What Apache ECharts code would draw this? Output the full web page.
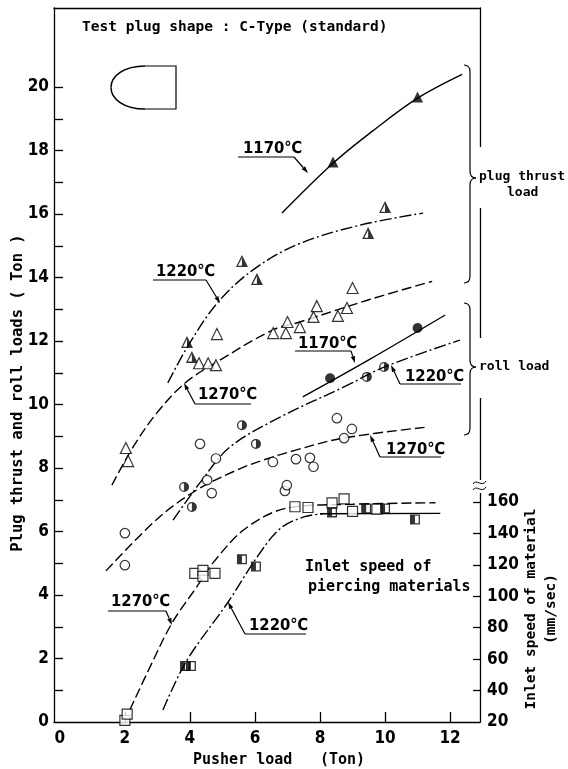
<!DOCTYPE html>
<html>
<head>
<meta charset="utf-8">
<script src="https://cdn.jsdelivr.net/npm/echarts@6/dist/echarts.min.js"></script>
<style>
  html, body { margin: 0; padding: 0; background: #fff; }
  #chart { width: 568px; height: 769px; }
</style>
</head>
<body>
<div id="chart"></div>
<script>
// axis ranges / ticks
var X_MIN = -0.18, X_MAX = 12.92;
var Y_MAX = 22.49;
var S_MIN = 20, S_MAX = 474.4;          // inlet speed axis (mm/sec)
var xTicks = [2, 4, 6, 8, 10, 12];
var xLabels = [0, 2, 4, 6, 8, 10, 12];
var yTicks = [1,2,3,4,5,6,7,8,9,10,11,12,13,14,15,16,17,18,19,20];
var yLabels = [0, 2, 4, 6, 8, 10, 12, 14, 16, 18, 20];
var sTicks = [40, 60, 80, 100, 120, 140, 160];
var sLabels = [20, 40, 60, 80, 100, 120, 140, 160];

// plug thrust load (Ton)
var plug1170Pts = [[8.4, 17.64], [11.0, 19.69]];
var plug1170Curve = [[6.83, 16.03], [8.4, 17.6], [9.7, 18.68], [11.0, 19.65], [12.37, 20.4]];
var plug1220Pts = [[3.91, 11.97], [4.06, 11.5], [5.6, 14.52], [6.06, 13.95], [9.48, 15.4], [10.0, 16.22]];
var plug1220Curve = [[3.32, 10.68], [4.0, 11.95], [4.92, 13.29], [6.06, 14.33], [7.4, 15.08], [9.23, 15.65], [11.17, 16.03]];
var plug1270Pts = [[2.03, 8.63], [2.1, 8.22], [4.28, 11.3], [4.56, 11.3], [4.8, 11.24], [4.83, 12.22],
  [6.56, 12.25], [6.95, 12.25], [7.0, 12.6], [7.38, 12.44], [7.8, 12.76], [7.9, 13.1],
  [8.55, 12.79], [8.83, 13.04], [9.0, 13.67]];
var plug1270Curve = [[1.6, 7.46], [2.25, 8.66], [2.98, 9.73], [3.85, 10.68], [4.83, 11.34], [6.55, 12.35], [7.38, 12.6], [9.5, 13.3], [11.45, 13.88]];

// roll load (Ton)
var roll1170Pts = [[8.31, 10.83], [11.0, 12.41]];
var roll1170Curve = [[7.47, 10.24], [9.54, 11.43], [11.85, 12.82]];
var roll1220Pts = [[3.82, 7.4], [4.06, 6.77], [5.6, 9.35], [6.03, 8.76], [9.44, 10.87], [9.97, 11.18]];
var roll1220Curve = [[3.48, 6.36], [4.37, 7.62], [5.23, 8.66], [6.77, 9.6], [8.83, 10.6], [9.97, 11.18], [12.3, 12.03]];
var roll1270Pts = [[2.0, 5.95], [2.0, 4.94], [4.31, 8.76], [4.53, 7.62], [4.67, 7.21], [4.8, 8.3],
  [6.55, 8.19], [6.92, 7.28], [6.98, 7.46], [7.26, 8.28], [7.69, 8.32], [7.8, 8.04],
  [8.52, 9.57], [8.74, 8.94], [8.98, 9.23]];
var roll1270Curve = [[1.42, 4.76], [3.02, 6.42], [4.2, 7.3], [5.45, 7.94], [6.25, 8.25], [7.2, 8.55], [8.7, 8.94], [11.3, 9.29]];

// inlet speed of piercing materials (mm/sec)
var speed1270Pts = [[2.0, 21], [2.07, 25], [4.15, 114.6], [4.4, 116.5], [4.4, 112.7], [4.77, 114.6],
  [7.23, 157], [7.63, 156.5], [8.37, 159.5], [8.74, 162], [9.0, 154], [9.75, 155.5]];
var speed1270Curve = [[2.15, 27.6], [2.77, 54.9], [3.45, 83], [4.2, 105.7], [4.72, 121.6], [5.75, 143.8], [7.08, 156.5], [9.0, 158.6], [11.55, 159.5]];
var speed1220Pts = [[3.85, 55.6], [4.03, 55.6], [5.6, 123.5], [6.03, 119], [8.37, 153.4], [9.42, 155.9], [10.0, 155.9], [10.92, 148.9]];
var speed1220Curve = [[3.17, 27.6], [3.9, 59], [5.17, 96.2], [6.06, 124.8], [6.77, 143], [7.5, 150.5], [8.1, 152.5]];
var speed1220Flat = [[8.0, 152.5], [11.7, 152.8]];

var NUM_FONT = "'Liberation Sans Narrow', 'DejaVu Sans Condensed', 'Liberation Sans', sans-serif";
var MONO = "'DejaVu Sans Mono', 'Liberation Mono', monospace";

// half filled marks
var HALF_TRI = 'path://M5,0L10,9L0,9Z M5,2.3L1.7,8L5,8Z';
var HALF_CIRCLE = 'path://M5,0A5,5,0,1,1,5,10A5,5,0,1,1,5,0Z M5,1.3A3.7,3.7,0,0,0,5,8.7Z';
var HALF_SQUARE = 'path://M0,0H10V10H0Z M5,1.3V8.7H8.7V1.3Z';

var DASH = [10, 4];
var DASH_DOT = [12, 3, 2, 3];

function curve(name, data, dash, yIdx) {
  return {
    name: name, type: 'line', data: data, yAxisIndex: yIdx || 0,
    smooth: 0.35, symbol: 'none', silent: true,
    lineStyle: { color: '#000', width: 1.4, type: dash }
  };
}
function marks(name, data, symbol, size, filled, yIdx) {
  return {
    name: name, type: 'scatter', data: data, yAxisIndex: yIdx || 0,
    symbol: symbol, symbolSize: size, z: 5,
    itemStyle: filled ? { color: '#000', borderWidth: 0 }
                      : { color: '#fff', borderColor: '#000', borderWidth: 1.2 }
  };
}

// annotation helpers (pixel layout)
var INK = { fill: 'none', stroke: '#000', lineWidth: 1.2 };
function txt(x, y, s, font, rot, align) {
  return { type: 'text', x: x, y: y, z: 100, rotation: rot || 0,
    style: { text: s, font: font, fill: '#000', textAlign: align || 'left', textVerticalAlign: 'middle' } };
}
function seg(x1, y1, x2, y2) {
  return { type: 'line', z: 100, shape: { x1: x1, y1: y1, x2: x2, y2: y2 },
    style: { stroke: '#000', lineWidth: 1.2 } };
}
function quad(x1, y1, cx, cy, x2, y2, w) {
  return { type: 'bezierCurve', z: 100,
    shape: { x1: x1, y1: y1, cpx1: cx, cpy1: cy, x2: x2, y2: y2 },
    style: { fill: 'none', stroke: '#000', lineWidth: w || 1.2 } };
}
function cubic(x1, y1, c1x, c1y, c2x, c2y, x2, y2, w) {
  return { type: 'bezierCurve', z: 100,
    shape: { x1: x1, y1: y1, cpx1: c1x, cpy1: c1y, cpx2: c2x, cpy2: c2y, x2: x2, y2: y2 },
    style: { fill: 'none', stroke: '#000', lineWidth: w || 1.2 } };
}
function arrow(x1, y1, x2, y2) {
  var dx = x2 - x1, dy = y2 - y1, len = Math.sqrt(dx * dx + dy * dy);
  dx /= len; dy /= len;
  var bx = x2 - dx * 7, by = y2 - dy * 7;
  return [seg(x1, y1, bx, by), { type: 'polygon', z: 100,
    shape: { points: [[x2, y2], [bx - dy * 2.2, by + dx * 2.2], [bx + dy * 2.2, by - dx * 2.2]] },
    style: { fill: '#000' } }];
}
function brace(top, tip, bottom) {
  var x0 = 464, x1 = 470, x2 = 476;
  return [
    quad(x0, top, x1, top, x1, top + 7),
    seg(x1, top + 7, x1, tip - 7),
    quad(x1, tip - 7, x1, tip, x2, tip),
    quad(x2, tip, x1, tip, x1, tip + 7),
    seg(x1, tip + 7, x1, bottom - 7),
    quad(x1, bottom - 7, x1, bottom, x0, bottom)
  ];
}
var LBL_FONT = "bold 16.5px " + NUM_FONT;
function tempLabel(tx, ty, s, ux1, ux2, uy, lx, ly, ax, ay) {
  return [txt(tx, ty, s, LBL_FONT), seg(ux1, uy, ux2, uy)].concat(arrow(lx, ly, ax, ay));
}

var graphics = [];
graphics = graphics.concat(
  tempLabel(243, 149, '1170℃', 238, 294, 157, 294, 157, 308, 173),
  tempLabel(156, 272, '1220℃', 153, 206, 280, 206, 280, 220, 303),
  tempLabel(198, 395, '1270℃', 195, 251, 404, 195, 404, 184, 383),
  tempLabel(298, 344, '1170℃', 295, 351, 351, 351, 351, 355, 363),
  tempLabel(405, 377, '1220℃', 400, 461, 384, 400, 384, 391, 365),
  tempLabel(386, 450, '1270℃', 380, 441, 457, 380, 457, 370, 435),
  tempLabel(111, 602, '1270℃', 108, 166, 611, 166, 611, 172, 625),
  tempLabel(249, 626, '1220℃', 245, 306, 634, 245, 634, 228, 602),
  brace(65, 178, 283),
  brace(303, 367, 435)
);
// gaps in right frame + break mark
graphics.push(
  { type: 'rect', z: 99, shape: { x: 476, y: 147, width: 8, height: 61 }, style: { fill: '#fff' } },
  { type: 'rect', z: 99, shape: { x: 476, y: 338, width: 8, height: 60 }, style: { fill: '#fff' } },
  { type: 'rect', z: 99, shape: { x: 476, y: 480, width: 8, height: 13 }, style: { fill: '#fff' } },
  cubic(473, 484, 476, 478, 482, 488, 486, 481, 1),
  cubic(473, 490, 476, 484, 482, 494, 486, 487, 1)
);
// plug shape sketch
graphics.push(
  { type: 'polyline', z: 100, shape: { points: [[145, 66], [176, 66], [176, 109], [145, 109]] }, style: INK },
  cubic(145, 109, 124, 109, 111, 99, 111, 87.5, 1.5),
  cubic(111, 87.5, 111, 76, 124, 66, 145, 66, 1.5)
);
// texts
var BOLD_MONO = "bold 14.5px " + MONO;
var SIDE_MONO = "bold 13px " + MONO;
graphics.push(
  txt(82, 27, 'Test plug shape : C-Type (standard)', BOLD_MONO),
  { type: 'rect', z: 99, shape: { x: 477, y: 168, width: 90, height: 34 }, style: { fill: '#fff' } },
  txt(479, 177, 'plug thrust', SIDE_MONO),
  txt(507, 193, 'load', SIDE_MONO),
  txt(479, 367, 'roll load', SIDE_MONO),
  txt(305, 567, 'Inlet speed of', "bold 15px " + MONO),
  txt(308, 587, 'piercing materials', "bold 15px " + MONO),
  txt(193, 760, 'Pusher load', "bold 15px " + MONO),
  txt(320, 760, '(Ton)', "bold 15px " + MONO),
  txt(18, 393, 'Plug thrust and roll loads ( Ton )', "bold 15.5px " + MONO, Math.PI / 2, 'center'),
  txt(531, 609, 'Inlet speed of material', "bold 14.5px " + MONO, Math.PI / 2, 'center'),
  txt(551, 609, '(mm/sec)', "bold 14.5px " + MONO, Math.PI / 2, 'center')
);

var axisLineStyle = { color: '#000', width: 1.3 };
var numLabel = { color: '#000', fontFamily: NUM_FONT, fontWeight: 'bold', fontSize: 17 };

var chartObj = echarts.init(document.getElementById('chart'));
var option = {
  animation: false,
  backgroundColor: '#fff',
  grid: { left: 54, right: 88, top: 8, bottom: 47 },
  xAxis: [
    {
      type: 'value', min: X_MIN, max: X_MAX,
      axisLine: { onZero: false, lineStyle: axisLineStyle },
      axisTick: { inside: true, length: 10, customValues: xTicks, lineStyle: axisLineStyle },
      axisLabel: Object.assign({ customValues: xLabels, margin: 8 }, numLabel),
      splitLine: { show: false }
    },
    {
      type: 'value', position: 'top', min: X_MIN, max: X_MAX,
      axisLine: { onZero: false, lineStyle: axisLineStyle },
      axisTick: { show: false }, axisLabel: { show: false }, splitLine: { show: false }
    }
  ],
  yAxis: [
    {
      type: 'value', min: 0, max: Y_MAX,
      axisLine: { onZero: false, lineStyle: axisLineStyle },
      axisTick: { inside: true, length: 9, customValues: yTicks, lineStyle: axisLineStyle },
      axisLabel: Object.assign({ customValues: yLabels, margin: 5 }, numLabel),
      splitLine: { show: false }
    },
    {
      type: 'value', position: 'right', min: S_MIN, max: S_MAX,
      axisLine: { show: true, onZero: false, lineStyle: axisLineStyle },
      axisTick: { show: true, inside: true, length: 7, customValues: sTicks, lineStyle: axisLineStyle },
      axisLabel: Object.assign({ customValues: sLabels, margin: 7 }, numLabel),
      splitLine: { show: false }
    }
  ],
  series: [
    curve('1170 plug', plug1170Curve, 'solid'),
    curve('1220 plug', plug1220Curve, DASH_DOT),
    curve('1270 plug', plug1270Curve, DASH),
    curve('1170 roll', roll1170Curve, 'solid'),
    curve('1220 roll', roll1220Curve, DASH_DOT),
    curve('1270 roll', roll1270Curve, DASH),
    curve('1270 speed', speed1270Curve, DASH, 1),
    curve('1220 speed', speed1220Curve, DASH_DOT, 1),
    curve('1220 speed flat', speed1220Flat, 'solid', 1),
    marks('1170 plug pts', plug1170Pts, 'triangle', 11, true),
    marks('1220 plug pts', plug1220Pts, HALF_TRI, 12, true),
    marks('1270 plug pts', plug1270Pts, 'triangle', 11, false),
    marks('1170 roll pts', roll1170Pts, 'circle', 10, true),
    marks('1220 roll pts', roll1220Pts, HALF_CIRCLE, 10, true),
    marks('1270 roll pts', roll1270Pts, 'circle', 9.5, false),
    marks('1270 speed pts', speed1270Pts, 'rect', 10, false, 1),
    marks('1220 speed pts', speed1220Pts, HALF_SQUARE, 10, true, 1)
  ],
  graphic: graphics
};
chartObj.setOption(option);
</script>
</body>
</html>
